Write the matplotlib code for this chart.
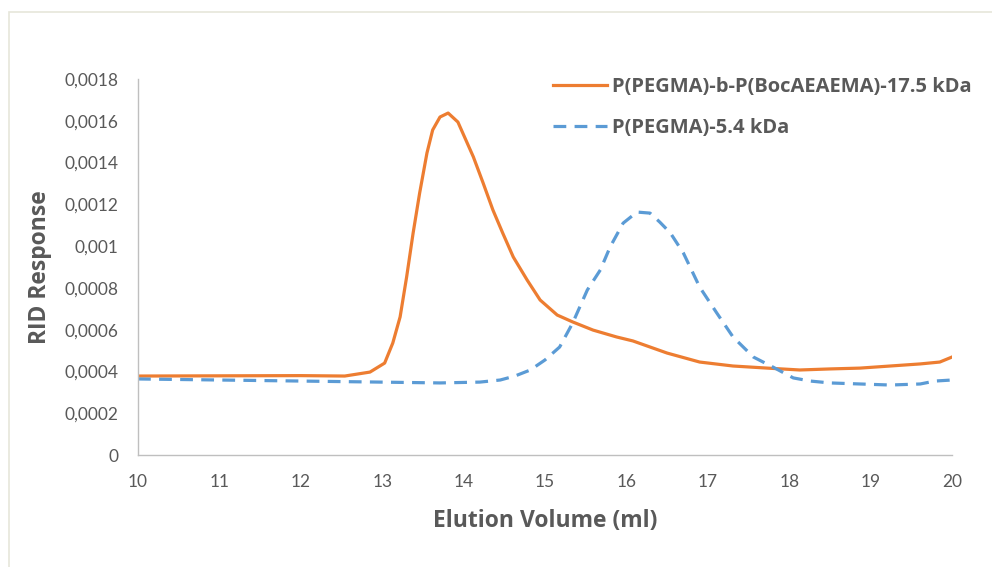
import matplotlib
matplotlib.use("Agg")
import matplotlib.pyplot as plt
from matplotlib.patches import Rectangle
from matplotlib.ticker import FuncFormatter, MultipleLocator

# block copolymer trace (elution volume in ml, RID response)
block_ml = [10.0, 11.0, 12.0, 12.54, 12.85, 13.03, 13.13, 13.22, 13.30, 13.38,
            13.46, 13.55, 13.62, 13.71, 13.81, 13.93, 14.12, 14.24, 14.36, 14.48,
            14.61, 14.78, 14.94, 15.15, 15.34, 15.59, 15.88, 16.08, 16.5, 16.9,
            17.31, 17.73, 18.13, 18.5, 18.87, 19.24, 19.61, 19.85, 20.0]
block_rid = [0.000378, 0.000379, 0.000380, 0.000378, 0.000397, 0.00044, 0.000536,
             0.000661, 0.000852, 0.001063, 0.001254, 0.001446, 0.001556, 0.001618,
             0.001637, 0.001594, 0.001427, 0.001302, 0.001173, 0.001063, 0.000948,
             0.000838, 0.000742, 0.00067, 0.000637, 0.000598, 0.000565, 0.000546,
             0.000488, 0.000445, 0.000426, 0.000416, 0.000407, 0.000412, 0.000416,
             0.000426, 0.000436, 0.000445, 0.000469]

# macroinitiator trace
pegma_ml = [10.0, 11.0, 12.0, 12.97, 13.71, 14.2, 14.45, 14.63, 14.82, 15.0,
            15.18, 15.34, 15.52, 15.68, 15.8, 15.96, 16.13, 16.29, 16.41, 16.54,
            16.7, 16.9, 17.11, 17.31, 17.56, 17.8, 18.05, 18.26, 18.5, 18.87,
            19.24, 19.61, 19.79, 20.0]
pegma_rid = [0.000364, 0.000359, 0.000354, 0.000349, 0.000345, 0.000349, 0.000359,
             0.000378, 0.000407, 0.000455, 0.000517, 0.000632, 0.00079, 0.000886,
             0.000996, 0.00111, 0.001163, 0.001158, 0.001115, 0.001063, 0.000967,
             0.000804, 0.00068, 0.000565, 0.000469, 0.000421, 0.000369, 0.000354,
             0.000345, 0.00034, 0.000335, 0.00034, 0.000354, 0.000359]

series_names = ["P(PEGMA)-b-P(BocAEAEMA)-17.5 kDa", "P(PEGMA)-5.4 kDa"]

tick_font = "Lato"
label_font = "Open Sans"
grey = "#595959"

fig = plt.figure(figsize=(9.92, 5.67), dpi=100)
# thin outer frame of the chart area
fig.patches.append(Rectangle((9 / 992, -0.1), 1.2, 1 - 12 / 567 + 0.1,
                             transform=fig.transFigure, fill=False,
                             edgecolor="#e6e6da", linewidth=1.2))

ax = fig.add_axes([138 / 992, 112 / 567, 814 / 992, 376 / 567])
ax.plot(block_ml, block_rid, color="#ED7D31", linewidth=2.3, label=series_names[0])
ax.plot(pegma_ml, pegma_rid, color="#5B9BD5", linewidth=2.3,
        linestyle=(0, (4, 2.6)), label=series_names[1])

ax.set_xlim(10, 20)
ax.set_ylim(0, 0.0018)
ax.xaxis.set_major_locator(MultipleLocator(1))
ax.yaxis.set_major_locator(MultipleLocator(0.0002))


def comma_fmt(v, pos):
    if abs(v) < 1e-12:
        return "0"
    return f"{v:.4f}".rstrip("0").rstrip(".").replace(".", ",")


ax.yaxis.set_major_formatter(FuncFormatter(comma_fmt))
ax.tick_params(length=0, labelsize=12.5, labelcolor=grey)
ax.tick_params(axis="x", pad=14)
ax.tick_params(axis="y", pad=14)
for lab in ax.get_xticklabels() + ax.get_yticklabels():
    lab.set_fontfamily(tick_font)

for side in ["top", "right"]:
    ax.spines[side].set_visible(False)
for side in ["left", "bottom"]:
    ax.spines[side].set_color("#bfbfbf")
    ax.spines[side].set_linewidth(1.0)

ax.set_xlabel("Elution Volume (ml)", fontsize=16.5, fontweight="bold",
              color=grey, family=label_font, labelpad=13)
ax.set_ylabel("RID Response", fontsize=16.5, fontweight="bold",
              color=grey, family=label_font, labelpad=9)

leg = ax.legend(loc="upper left", bbox_to_anchor=(553 / 992, 1 - 77 / 567),
                bbox_transform=fig.transFigure, frameon=False,
                borderpad=0, borderaxespad=0,
                handlelength=2.7, handletextpad=0.25, labelspacing=1.05,
                prop={"family": label_font, "weight": "bold", "size": 14.5})
for t in leg.get_texts():
    t.set_color(grey)

fig.savefig("out.png", dpi=100)
